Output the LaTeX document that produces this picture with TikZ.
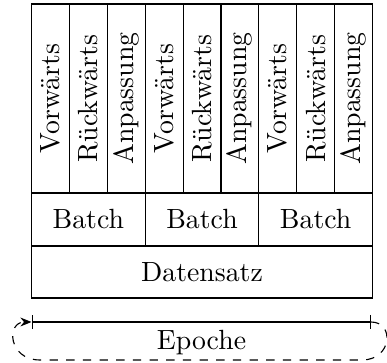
\documentclass[tikz,border=0pt]{standalone}
\usetikzlibrary{arrows.meta}
\begin{document}
\begin{tikzpicture}[x=0.36pt,y=-0.36pt,
  cell/.style={draw,line width=0.4pt,inner sep=0pt,rectangle},
  phase/.style={cell,rotate=90,minimum width=68.04pt,minimum height=13.64pt},
  batchbox/.style={cell,minimum width=40.92pt,minimum height=19.08pt},
  databox/.style={cell,minimum width=122.76pt,minimum height=18.72pt},
  span/.style={line width=0.4pt,{Bar[width=5.2pt]}-{Bar[width=5.2pt]}},
  loop/.style={dashed,line width=0.4pt,-{Stealth[length=4pt,width=3.2pt]}}]
\useasboundingbox (0,0) rectangle (387,363);

% three batches, each with forward, backward and update steps
\foreach \b in {0,1,2}{
  \pgfmathsetmacro{\xa}{31.5+113.67*\b+18.945}
  \pgfmathsetmacro{\xb}{\xa+37.89}
  \pgfmathsetmacro{\xc}{\xb+37.89}
  \pgfmathsetmacro{\xm}{31.5+113.67*\b+56.83}
  \node[phase] (v\b) at (\xa,98.5) {Vorwärts};
  \node[phase] (r\b) at (\xb,98.5) {Rückwärts};
  \node[phase] (a\b) at (\xc,98.5) {Anpassung};
  \node[batchbox] (b\b) at (\xm,219.5) {Batch};
}
\node[databox] (data) at (202,272) {Datensatz};

% one epoch covers the whole data set, then repeats
\coordinate (el) at (31.5,322);
\coordinate (er) at (371,322);
\draw[span] (el) -- (er);
\node[anchor=base] (ep) at (201.5,350) {Epoche};
\draw[loop] (er) .. controls (395,322) and (392,360) .. (362,360)
  -- (40,360) .. controls (8,360) and (6,322) .. (el);
\end{tikzpicture}
\end{document}
